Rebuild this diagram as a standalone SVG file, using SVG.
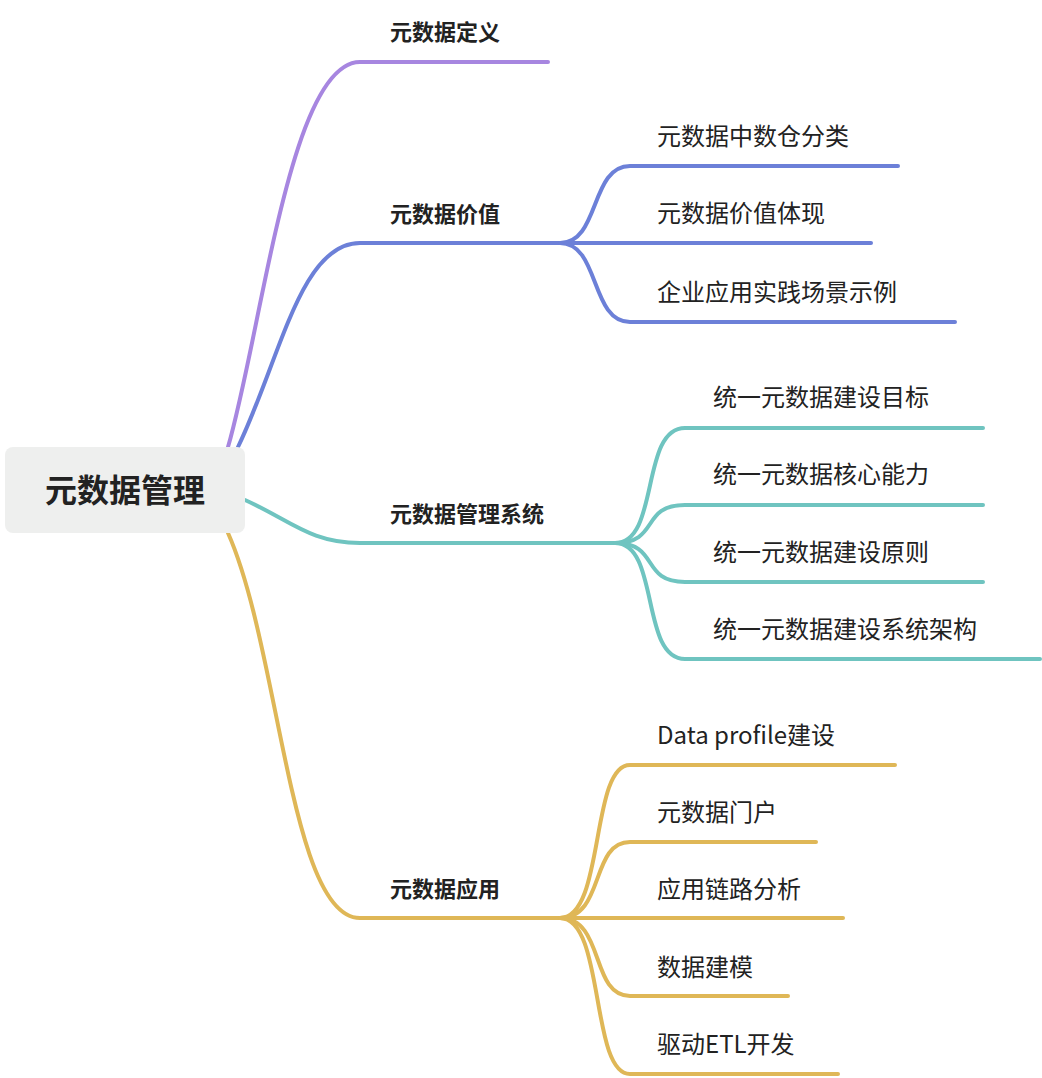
<svg xmlns="http://www.w3.org/2000/svg" width="1042" height="1078" viewBox="0 0 1042 1078">
<style>
.c{fill:none;stroke-width:4;stroke-linecap:round}
.p{stroke:#a786e0}.b{stroke:#6c80d8}.t{stroke:#6fc4c0}.g{stroke:#dfb757}
text{font-family:"Noto Sans CJK SC","Liberation Sans",sans-serif;fill:#222}
.l1{font-size:22px;font-weight:bold}
.l2{font-size:24px}
</style>
<rect width="1042" height="1078" fill="#fff"/>
<g id="connectors">
<path class="c p" d="M228,447 C262,330 290,62 360,62 L548,62"/>
<path class="c b" d="M238,447 C280,360 300,243 360,243 L560,243"/>
<path class="c t" d="M245,500 C290,520 310,543 360,543 L615,543"/>
<path class="c g" d="M228,533 C280,650 290,918 360,918 L560,918"/>
<path class="c b" d="M560,243 C600,243 590,166 630,166 L898,166"/>
<path class="c b" d="M560,243 L871,243"/>
<path class="c b" d="M560,243 C600,243 590,322 630,322 L955,322"/>
<path class="c t" d="M615,543 C660,543 640,428 685,428 L983,428"/>
<path class="c t" d="M615,543 C660,543 640,505 685,505 L983,505"/>
<path class="c t" d="M615,543 C660,543 640,582 685,582 L983,582"/>
<path class="c t" d="M615,543 C660,543 640,659 685,659 L1040,659"/>
<path class="c g" d="M560,918 C605,918 590,765 630,765 L895,765"/>
<path class="c g" d="M560,918 C605,918 590,842 630,842 L816,842"/>
<path class="c g" d="M560,918 L843,918"/>
<path class="c g" d="M560,918 C605,918 590,996 630,996 L788,996"/>
<path class="c g" d="M560,918 C605,918 590,1074 630,1074 L838,1074"/>
</g>
<g id="root"><rect x="5" y="447" width="240" height="86" rx="8" fill="#eeefee"/><text x="125" y="502" text-anchor="middle" style="font-size:32px;font-weight:bold">元数据管理</text></g>
<g id="n1"><text class="l1" x="390" y="40">元数据定义</text></g>
<g id="n2"><text class="l1" x="390" y="222">元数据价值</text></g>
<g id="n3"><text class="l1" x="390" y="522">元数据管理系统</text></g>
<g id="n4"><text class="l1" x="390" y="897">元数据应用</text></g>
<g id="n21"><text class="l2" x="657" y="145">元数据中数仓分类</text></g>
<g id="n22"><text class="l2" x="657" y="222">元数据价值体现</text></g>
<g id="n23"><text class="l2" x="657" y="301">企业应用实践场景示例</text></g>
<g id="n31"><text class="l2" x="713" y="406">统一元数据建设目标</text></g>
<g id="n32"><text class="l2" x="713" y="483">统一元数据核心能力</text></g>
<g id="n33"><text class="l2" x="713" y="561">统一元数据建设原则</text></g>
<g id="n34"><text class="l2" x="713" y="638">统一元数据建设系统架构</text></g>
<g id="n41"><text class="l2" x="657" y="744">Data profile建设</text></g>
<g id="n42"><text class="l2" x="657" y="821">元数据门户</text></g>
<g id="n43"><text class="l2" x="657" y="898">应用链路分析</text></g>
<g id="n44"><text class="l2" x="657" y="976">数据建模</text></g>
<g id="n45"><text class="l2" x="657" y="1053">驱动ETL开发</text></g>
</svg>
